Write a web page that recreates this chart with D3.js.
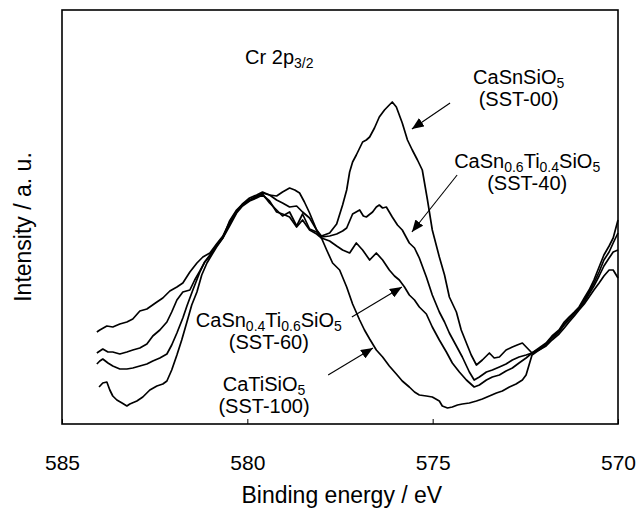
<!DOCTYPE html>
<html>
<head>
<meta charset="utf-8">
<script src="https://cdn.jsdelivr.net/npm/d3@7"></script>
<style>
  body { margin: 0; background: #fff; }
  svg text { font-family: "Liberation Sans", Arial, sans-serif; fill: #000; }
</style>
</head>
<body>
<div id="chart"></div>
<script>
// data: [binding energy (eV), intensity (a.u.)]
const sst00 = [
  [584.06,92],[583.98,94],[583.79,98],[583.63,97],[583.44,100],[583.25,102],[583.09,105],[582.90,113],
  [582.71,115],[582.44,122],[582.28,126],[582.09,133],[581.90,137],[581.74,141],[581.55,152],[581.36,161],
  [581.20,167],[581.01,171],[580.83,180],[580.66,188],[580.48,202],[580.29,213],[580.13,219],[579.94,224],
  [579.75,227],[579.59,231],[579.40,229],[579.21,224],[579.05,221],[578.86,217],[578.67,218],[578.51,212],
  [578.32,206],[578.13,194],[578.00,188],[577.78,191],[577.59,200],[577.43,219],[577.32,234],[577.24,252],
  [577.16,262],[577.06,269],[576.89,282],[576.79,284],[576.70,287],[576.57,296],[576.44,307],[576.30,314],
  [576.17,319],[576.09,322],[575.98,317],[575.82,301],[575.68,284],[575.55,274],[575.41,264],[575.28,254],
  [575.14,224],[575.01,194],[574.82,167],[574.68,149],[574.55,127],[574.36,112],[574.23,94],[574.09,81],
  [573.96,69],[573.82,59],[573.66,64],[573.47,71],[573.34,66],[573.20,67],[573.02,74],[572.85,77],
  [572.72,79],[572.58,81],[572.45,76],[572.32,71],[572.13,76],[571.94,81],[571.78,88],[571.59,94],
  [571.45,102],[571.32,107],[571.18,112],[571.05,117],[570.91,126],[570.78,134],[570.65,144],[570.51,157],
  [570.38,169],[570.24,178],[570.13,186],[570.00,204]
];
const sst40 = [
  [584.06,71],[583.98,73],[583.90,75],[583.76,72],[583.63,72],[583.44,70],[583.25,72],[583.09,74],
  [582.90,76],[582.71,80],[582.55,88],[582.36,94],[582.17,102],[582.04,112],[581.90,124],[581.74,132],
  [581.55,134],[581.42,144],[581.28,153],[581.15,162],[581.01,168],[580.83,179],[580.66,187],[580.48,200],
  [580.29,212],[580.13,220],[579.94,224],[579.75,228],[579.59,230],[579.40,221],[579.21,214],[579.05,208],
  [578.86,212],[578.67,198],[578.51,210],[578.32,195],[578.13,192],[578.00,187],[577.78,188],[577.59,190],
  [577.43,193],[577.32,196],[577.16,210],[576.97,214],[576.87,208],[576.79,207],[576.62,212],[576.52,217],
  [576.44,219],[576.35,216],[576.25,217],[576.17,212],[576.09,207],[575.95,199],[575.82,194],[575.63,181],
  [575.49,176],[575.36,166],[575.17,147],[575.01,129],[574.82,112],[574.68,102],[574.55,91],[574.36,78],
  [574.20,67],[574.01,52],[573.88,44],[573.74,47],[573.55,52],[573.39,54],[573.20,57],[573.02,60],
  [572.85,64],[572.67,67],[572.48,69],[572.32,71],[572.13,75],[571.94,80],[571.78,87],[571.59,93],
  [571.45,100],[571.32,106],[571.18,111],[571.05,116],[570.91,124],[570.78,132],[570.65,141],[570.51,152],
  [570.38,164],[570.24,172],[570.13,181],[570.00,191]
];
const sst60 = [
  [584.06,60],[583.98,63],[583.90,65],[583.76,61],[583.63,58],[583.44,55],[583.25,55],[583.09,56],
  [582.90,58],[582.71,60],[582.55,63],[582.36,66],[582.17,70],[582.04,79],[581.90,91],[581.74,106],
  [581.63,118],[581.47,134],[581.28,152],[581.15,162],[581.01,169],[580.83,178],[580.66,186],[580.48,198],
  [580.29,211],[580.13,218],[579.94,223],[579.75,226],[579.59,229],[579.40,223],[579.21,212],[579.05,210],
  [578.86,207],[578.67,197],[578.51,204],[578.32,194],[578.13,190],[578.00,186],[577.78,183],[577.59,178],
  [577.43,174],[577.24,171],[577.06,181],[576.89,174],[576.70,164],[576.52,171],[576.35,164],[576.17,154],
  [576.03,148],[575.90,144],[575.76,137],[575.63,129],[575.49,124],[575.36,117],[575.17,110],[575.01,97],
  [574.82,84],[574.63,72],[574.47,61],[574.28,52],[574.09,44],[573.88,37],[573.74,39],[573.55,44],
  [573.39,47],[573.20,49],[573.02,53],[572.85,56],[572.67,61],[572.48,66],[572.32,71],[572.13,74],
  [571.94,79],[571.78,86],[571.59,92],[571.45,99],[571.32,104],[571.18,110],[571.05,115],[570.91,122],
  [570.78,130],[570.65,138],[570.51,148],[570.38,158],[570.24,166],[570.13,172],[570.00,174]
];
const sst100 = [
  [584.00,37],[583.90,41],[583.79,42],[583.71,34],[583.63,28],[583.52,24],[583.38,21],[583.25,18],
  [583.17,20],[582.98,23],[582.82,27],[582.63,34],[582.44,38],[582.28,40],[582.17,43],[582.04,54],
  [581.90,69],[581.77,84],[581.63,102],[581.50,119],[581.36,132],[581.23,149],[581.09,161],[581.01,166],
  [580.83,177],[580.66,186],[580.48,203],[580.29,214],[580.13,220],[579.94,226],[579.75,229],[579.59,232],
  [579.40,229],[579.21,228],[579.05,232],[578.86,236],[578.72,234],[578.59,231],[578.46,222],[578.32,211],
  [578.13,194],[578.00,186],[577.86,174],[577.70,161],[577.51,154],[577.32,137],[577.16,120],[576.97,104],
  [576.84,94],[576.70,85],[576.52,74],[576.35,67],[576.17,58],[575.98,50],[575.82,43],[575.63,37],
  [575.49,32],[575.36,29],[575.17,28],[575.01,27],[574.82,23],[574.74,18],[574.60,16],[574.47,17],
  [574.33,19],[574.20,20],[574.01,21],[573.82,23],[573.66,25],[573.47,28],[573.28,31],[573.12,33],
  [572.93,37],[572.75,40],[572.58,44],[572.48,49],[572.40,59],[572.32,69],[572.13,74],[571.94,78],
  [571.78,84],[571.59,90],[571.45,96],[571.32,102],[571.18,108],[571.05,114],[570.91,120],[570.78,127],
  [570.65,134],[570.51,141],[570.38,148],[570.24,154],[570.13,154],[570.00,146]
];
const series = [sst00, sst40, sst60, sst100];
const xTicks = [585, 580, 575, 570];

// labels: [energy, intensity] of the first line, text parts [text, isSubscript]
const labels = [
  { at: [572.68, 340], lines: [[["CaSnSi",0],["O",0],["5",1]], [["(SST-00)",0]]] },
  { at: [572.45, 256], lines: [[["CaSn",0],["0.6",1],["Ti",0],["0.4",1],["SiO",0],["5",1]], [["(SST-40)",0]]] },
  { at: [579.42, 97],  lines: [[["CaSn",0],["0.4",1],["Ti",0],["0.6",1],["SiO",0],["5",1]], [["(SST-60)",0]]] },
  { at: [579.55, 33],  lines: [[["CaTiSiO",0],["5",1]], [["(SST-100)",0]]] }
];
// arrows: from -> tip
const arrows = [
  [[574.53, 321], [575.56, 295]],
  [[574.34, 249], [575.56, 192]],
  [[577.18, 107], [575.83, 137]],
  [[577.82, 49],  [576.61, 76]]
];

const width = 639, height = 508;
const margin = { top: 10, right: 21, bottom: 84, left: 62 };
const plotW = width - margin.left - margin.right;
const plotH = height - margin.top - margin.bottom;

const svg = d3.select("#chart").append("svg")
  .attr("width", width)
  .attr("height", height);

svg.append("defs").append("marker")
  .attr("id", "head")
  .attr("viewBox", "0 0 12 10")
  .attr("refX", 12).attr("refY", 5)
  .attr("markerWidth", 12).attr("markerHeight", 10)
  .attr("markerUnits", "userSpaceOnUse")
  .attr("orient", "auto")
  .append("path")
  .attr("d", "M0,0 L12,5 L0,10 Z")
  .attr("fill", "#000");

const g = svg.append("g").attr("transform", `translate(${margin.left},${margin.top})`);

const x = d3.scaleLinear().domain([585, 570]).range([0, plotW]);
const y = d3.scaleLinear().domain([0, 414]).range([plotH, 0]);

// frame
g.append("rect")
  .attr("width", plotW).attr("height", plotH)
  .attr("fill", "none").attr("stroke", "#000").attr("stroke-width", 1.6);

// x axis, ticks pointing inward
const xAxis = g.append("g")
  .attr("transform", `translate(0,${plotH})`)
  .call(d3.axisBottom(x).tickValues(xTicks).tickSize(-5).tickPadding(31).tickFormat(d3.format("d")));
xAxis.select(".domain").remove();
xAxis.selectAll("line").attr("stroke", "#000");
xAxis.selectAll("text").style("font-size", "21px").attr("font-family", null);

g.append("text")
  .attr("x", x(577.45)).attr("y", plotH + 79)
  .attr("text-anchor", "middle")
  .style("font-size", "23px")
  .text("Binding energy / eV");

svg.append("text")
  .attr("transform", `translate(31,${margin.top + plotH / 2 + 10}) rotate(-90)`)
  .attr("text-anchor", "middle")
  .style("font-size", "23px")
  .text("Intensity / a. u.");

// spectra
const line = d3.line().x(d => x(d[0])).y(d => y(d[1]));
g.selectAll(".spec")
  .data(series)
  .enter()
  .append("path")
  .attr("class", "spec")
  .attr("d", line)
  .attr("fill", "none")
  .attr("stroke", "#000")
  .attr("stroke-width", 1.7)
  .attr("stroke-linejoin", "round");

// Cr 2p3/2
const cr = g.append("text")
  .attr("x", x(580.06)).attr("y", y(360))
  .style("font-size", "20px");
cr.append("tspan").text("Cr 2p");
cr.append("tspan").attr("dy", 4).style("font-size", "14px").text("3/2");

// sample labels
labels.forEach(lb => {
  lb.lines.forEach((parts, i) => {
    const t = g.append("text")
      .attr("x", x(lb.at[0])).attr("y", y(lb.at[1]) + i * 22)
      .attr("text-anchor", "middle")
      .style("font-size", "20px");
    let sub = false;
    parts.forEach(([s, isSub]) => {
      const ts = t.append("tspan").text(s);
      if (isSub && !sub) ts.attr("dy", 4);
      if (!isSub && sub) ts.attr("dy", -4);
      if (isSub) ts.style("font-size", "14px");
      sub = !!isSub;
    });
  });
});

// arrows
g.selectAll(".arrow")
  .data(arrows)
  .enter()
  .append("line")
  .attr("class", "arrow")
  .attr("x1", d => x(d[0][0])).attr("y1", d => y(d[0][1]))
  .attr("x2", d => x(d[1][0])).attr("y2", d => y(d[1][1]))
  .attr("stroke", "#000")
  .attr("stroke-width", 1.1)
  .attr("marker-end", "url(#head)");
</script>
</body>
</html>
